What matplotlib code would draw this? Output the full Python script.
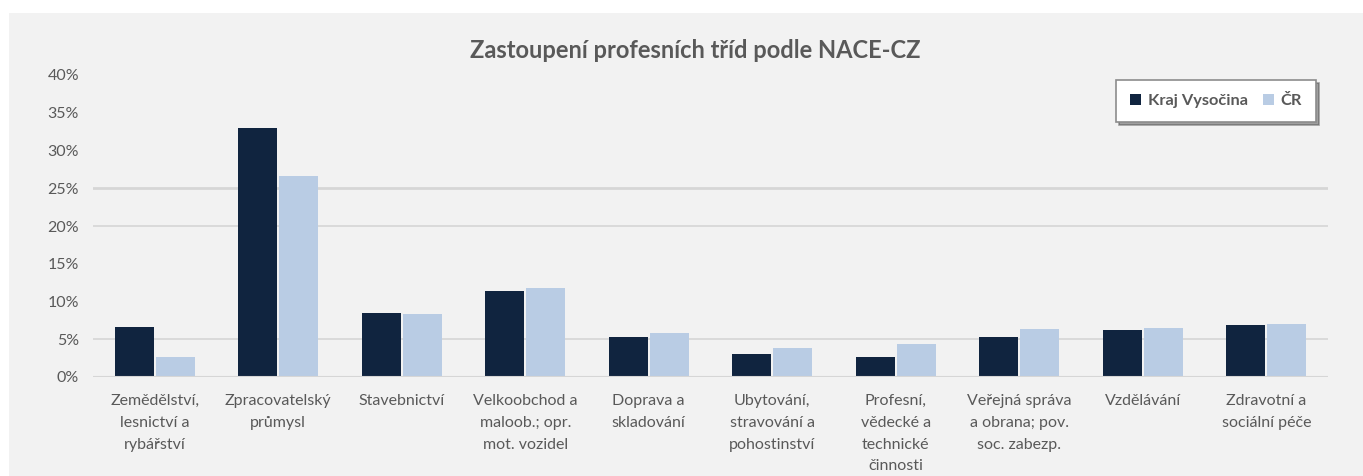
import numpy as np
import matplotlib.pyplot as plt
from matplotlib.patches import Rectangle

# Data
categories = ["Zemědělství,\nlesnictví a\nrybářství", "Zpracovatelský\nprůmysl", "Stavebnictví",
              "Velkoobchod a\nmaloob.; opr.\nmot. vozidel", "Doprava a\nskladování",
              "Ubytování,\nstravování a\npohostinství", "Profesní,\nvědecké a\ntechnické\nčinnosti",
              "Veřejná správa\na obrana; pov.\nsoc. zabezp.", "Vzdělávání", "Zdravotní a\nsociální péče"]
kraj = [6.6, 33.0, 8.5, 11.4, 5.3, 3.05, 2.65, 5.3, 6.2, 6.9]
cr = [2.65, 26.6, 8.3, 11.8, 5.8, 3.85, 4.4, 6.35, 6.5, 7.0]
yticks = [0, 5, 10, 15, 20, 25, 30, 35, 40]
grid_at = [5, 20, 25]

dark = "#10243f"
light = "#b9cce4"
txt = "#595959"
plt.rcParams['font.family'] = ['Lato', 'DejaVu Sans']

fig = plt.figure(figsize=(13.63, 4.76), dpi=100)
fig.patches.append(Rectangle((9/1363, 0), 1, 1 - 13/476, transform=fig.transFigure,
                             facecolor="#f2f2f2", edgecolor="none", zorder=-10))
ax = fig.add_axes([93/1363, 1 - 377/476, (1328-93)/1363, (377-75)/476])
ax.set_facecolor("none")

x = np.arange(len(categories))
w = 0.315
ax.bar(x - 0.165, kraj, w, color=dark, label="Kraj Vysočina", zorder=3)
ax.bar(x + 0.165, cr, w, color=light, label="ČR", zorder=3)

for g in grid_at:
    ax.axhline(g, color="#d6d6d6", lw=2 if g == 25 else 1.2, zorder=1)
ax.axhline(0, color="#d6d6d6", lw=1.5, zorder=4)

ax.set_xlim(-0.5, len(categories) - 0.5)
ax.set_ylim(0, 40)
ax.set_yticks(yticks)
ax.set_yticklabels([f"{v}%" for v in yticks], fontsize=11.5, color=txt)
ax.set_xticks(x)
ax.set_xticklabels(categories, fontsize=11.5, color=txt, linespacing=1.72, va="top")
ax.tick_params(length=0, axis="y", pad=10)
ax.tick_params(length=0, axis="x", pad=12)
for s in ax.spines.values():
    s.set_visible(False)

fig.text(695/1363, 1 - 50/476, "Zastoupení profesních tříd podle NACE-CZ", ha="center", va="center",
         fontsize=17, fontweight="bold", color=txt)

leg = ax.legend(loc="upper right", bbox_to_anchor=(1316/1363, 1 - 80/476), bbox_transform=fig.transFigure,
                ncol=2, frameon=True, fancybox=False, shadow=True, fontsize=11.8,
                handlelength=0.7, handleheight=0.7, handletextpad=0.4, columnspacing=0.9,
                borderpad=0.85, borderaxespad=0)
leg.get_frame().set_edgecolor("#8c8c8c")
leg.get_frame().set_linewidth(1.2)
for t in leg.get_texts():
    t.set_fontweight("bold")
    t.set_color(txt)

fig.savefig("out.png", dpi=100, facecolor="white")
